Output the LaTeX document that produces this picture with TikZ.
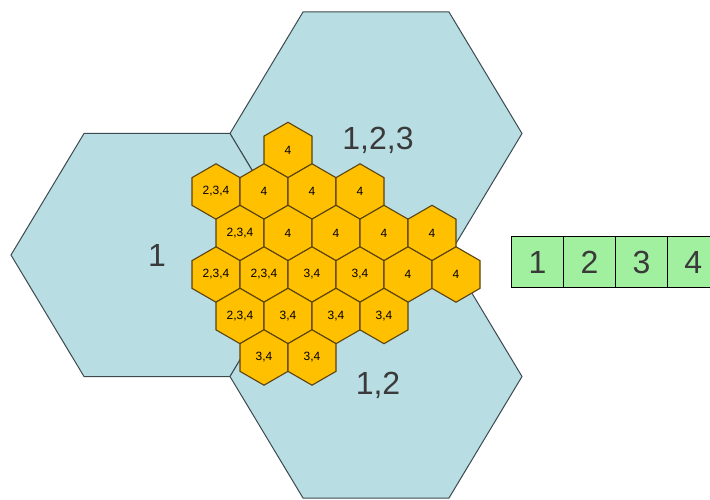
\documentclass[tikz,border=0pt]{standalone}
\usepackage{fontspec}
\setmainfont{Liberation Sans}
\definecolor{hexblue}{HTML}{B8DDE2}
\definecolor{hexline}{HTML}{3C4A50}
\definecolor{hexgold}{HTML}{FFC000}
\definecolor{hexbrown}{HTML}{5A4310}
\definecolor{labelgray}{HTML}{3A3A3A}
\definecolor{boxgreen}{HTML}{A0F0A0}
\begin{document}
\begin{tikzpicture}[x=1pt,y=-1pt,
  bighex/.style={fill=hexblue, draw=hexline, line width=1pt, line join=miter},
  smallhex/.style={fill=hexgold, draw=hexbrown, line width=1.1pt, line join=miter},
  smalltxt/.style={font=\fontsize{12}{12}\selectfont, text=black, inner sep=0pt},
  biglabel/.style={font=\fontsize{32}{32}\selectfont, text=labelgray, inner sep=0pt},
  gbox/.style={draw=black, fill=boxgreen, line width=0.8pt, minimum width=51.9pt,
    minimum height=51pt, inner sep=0pt, font=\fontsize{32}{32}\selectfont, text=labelgray}]
\useasboundingbox (0,0) rectangle (710,500);
% large cells
\foreach \cx/\cy in {376/133.5, 157/255, 376/376.5}
  \draw[bighex] (\cx-146,\cy) -- (\cx-73,\cy-121.5) -- (\cx+73,\cy-121.5)
    -- (\cx+146,\cy) -- (\cx+73,\cy+121.5) -- (\cx-73,\cy+121.5) -- cycle;
% small cells
\foreach \cx/\cy/\t [count=\i] in {
  288/150/{4},
  216/191.5/{2,3,4}, 264/191.5/{4}, 312/191.5/{4}, 360/191.5/{4},
  240/233/{2,3,4}, 288/233/{4}, 336/233/{4}, 384/233/{4}, 432/233/{4},
  216/274.5/{2,3,4}, 264/274.5/{2,3,4}, 312/274.5/{3,4}, 360/274.5/{3,4}, 408/274.5/{4}, 456/274.5/{4},
  240/316/{2,3,4}, 288/316/{3,4}, 336/316/{3,4}, 384/316/{3,4},
  264/357.5/{3,4}, 312/357.5/{3,4}} {
  \draw[smallhex] (\cx,\cy-27.7) -- (\cx+24,\cy-13.85) -- (\cx+24,\cy+13.85)
    -- (\cx,\cy+27.7) -- (\cx-24,\cy+13.85) -- (\cx-24,\cy-13.85) -- cycle;
  \node[smalltxt] (s\i) at (\cx,\cy) {\t};
}
% labels
\node[biglabel] (l1) at (157,255) {1};
\node[biglabel] (l123) at (378,140) {1,2,3};
\node[biglabel] (l12) at (378,385) {1,2};
% green boxes
\node[gbox] (g1) at (537.6,262) {1};
\node[gbox] (g2) at (589.5,262) {2};
\node[gbox] (g3) at (641.4,262) {3};
\node[gbox] (g4) at (693.3,262) {4};
\end{tikzpicture}
\end{document}
